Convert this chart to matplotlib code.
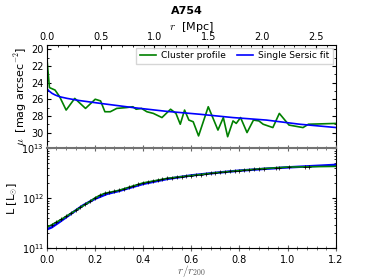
import matplotlib
matplotlib.use('Agg')
import matplotlib.pyplot as plt
from matplotlib.ticker import MultipleLocator

plt.rcParams['mathtext.fontset'] = 'cm'
plt.rcParams['font.size'] = 7

# perfil de brillo superficial (panel superior), r en Mpc
r_mpc = [0.0, 0.025, 0.077, 0.12, 0.18, 0.26, 0.36, 0.45, 0.50, 0.54, 0.59, 0.65,
         0.74, 0.80, 0.83, 0.88, 0.93, 0.99, 1.07, 1.15, 1.20, 1.24, 1.28, 1.32,
         1.36, 1.41, 1.50, 1.59, 1.64, 1.68, 1.73, 1.76, 1.80, 1.86, 1.92, 1.97,
         2.01, 2.10, 2.16, 2.25, 2.38, 2.43, 2.69]
mu_obs = [20.9, 24.6, 24.9, 25.7, 27.3, 25.9, 27.1, 26.0, 26.2, 27.5, 27.5, 27.1,
          27.0, 26.9, 27.2, 27.1, 27.5, 27.7, 28.2, 27.2, 27.7, 29.0, 27.3, 28.5,
          28.7, 30.4, 26.9, 29.7, 28.2, 30.5, 28.6, 28.9, 28.2, 30.0, 28.5, 28.6,
          29.0, 29.4, 27.7, 29.1, 29.4, 29.0, 28.9]

r_fit = [0.0, 0.02, 0.05, 0.08, 0.12, 0.19, 0.3, 0.5, 0.8, 1.11, 1.42, 1.73,
         2.04, 2.35, 2.69]
mu_fit = [24.7, 25.0, 25.3, 25.5, 25.7, 25.9, 26.15, 26.5, 27.0, 27.45, 27.8,
          28.2, 28.5, 29.0, 29.4]

# luminosidad acumulada (panel inferior)
x_lum = [0.0, 0.02, 0.06, 0.1, 0.14, 0.18, 0.2, 0.22, 0.24, 0.3, 0.36, 0.4,
         0.5, 0.6, 0.7, 0.8, 0.9, 1.0, 1.1, 1.2]
L_lum = [2.63e11, 2.95e11, 3.8e11, 5.0e11, 6.6e11, 8.7e11, 1.02e12, 1.15e12,
         1.26e12, 1.45e12, 1.78e12, 2.04e12, 2.51e12, 2.85e12, 3.24e12,
         3.59e12, 3.94e12, 4.22e12, 4.3e12, 4.37e12]

x_lfit = [0.0, 0.02, 0.05, 0.1, 0.15, 0.2, 0.25, 0.3, 0.4, 0.5, 0.6, 0.7,
          0.8, 0.9, 1.0, 1.1, 1.2]
L_lfit = [2.4e11, 2.63e11, 3.3e11, 4.9e11, 7.2e11, 9.8e11, 1.23e12, 1.41e12,
          1.95e12, 2.45e12, 2.88e12, 3.24e12, 3.59e12, 3.89e12, 4.17e12,
          4.42e12, 4.68e12]

x_pts = [0.02, 0.04, 0.06, 0.08, 0.10, 0.12, 0.14, 0.16, 0.18, 0.20, 0.22,
         0.24, 0.26, 0.28, 0.30, 0.32, 0.34, 0.36, 0.38, 0.40, 0.42, 0.44,
         0.46, 0.48, 0.50, 0.52, 0.54, 0.56, 0.58, 0.60, 0.62, 0.64, 0.66,
         0.68, 0.70, 0.72, 0.74, 0.76, 0.78, 0.80, 0.82, 0.84, 0.86, 0.88,
         0.90, 0.95, 0.965, 1.005, 1.07, 1.09]
L_pts = [2.95e11, 3.39e11, 3.8e11, 4.37e11, 5.0e11, 5.75e11, 6.6e11, 7.59e11,
         8.71e11, 1.02e12, 1.15e12, 1.26e12, 1.32e12, 1.38e12, 1.45e12,
         1.55e12, 1.66e12, 1.78e12, 1.91e12, 2.04e12, 2.14e12, 2.21e12,
         2.29e12, 2.4e12, 2.51e12, 2.6e12, 2.66e12, 2.72e12, 2.79e12, 2.85e12,
         2.92e12, 2.99e12, 3.05e12, 3.16e12, 3.24e12, 3.31e12, 3.39e12,
         3.47e12, 3.55e12, 3.59e12, 3.67e12, 3.76e12, 3.8e12, 3.89e12,
         3.94e12, 4.07e12, 4.12e12, 4.22e12, 4.27e12, 4.32e12]

fig = plt.figure(figsize=(3.74, 2.8), dpi=100)
ax1 = fig.add_axes([0.125, 0.470, 0.773, 0.369])
ax2 = fig.add_axes([0.125, 0.113, 0.773, 0.357])

# panel superior
ax1.plot(r_mpc, mu_obs, color='green', lw=1.2, label='Cluster profile')
ax1.plot(r_fit, mu_fit, color='blue', lw=1.2, label='Single Sersic fit')
ax1.set_xlim(0, 2.685)
ax1.set_ylim(31.9, 19.5)
ax1.xaxis.tick_top()
ax1.xaxis.set_label_position('top')
ax1.set_xlabel(r'$r$  [Mpc]', fontsize=8, labelpad=2)
ax1.set_ylabel(r'$\mu$  [mag arcsec$^{-2}$]', fontsize=8, labelpad=2)
ax1.yaxis.set_major_locator(MultipleLocator(2))
ax1.yaxis.set_minor_locator(MultipleLocator(1))
ax1.xaxis.set_major_locator(MultipleLocator(0.5))
ax1.xaxis.set_minor_locator(MultipleLocator(0.1))
ax1.tick_params(which='both', direction='in', top=True, bottom=False,
                left=True, right=True, labelsize=7, pad=2)
ax1.tick_params(which='major', length=3)
ax1.tick_params(which='minor', length=1.5)
ax1.spines['bottom'].set_visible(False)
ax1.legend(loc='upper right', ncol=2, fontsize=6.6, handlelength=1.7,
           handletextpad=0.6, borderpad=0.4, columnspacing=1.2,
           borderaxespad=0.3, fancybox=False, edgecolor='0.8')
fig.text(0.5, 0.962, 'A754', ha='center', va='center', fontsize=8,
         fontweight='bold')

# panel inferior
ax2.plot(x_lfit, L_lfit, color='blue', lw=1.8)
ax2.plot(x_lum, L_lum, color='green', lw=1.2)
ax2.plot(x_pts, L_pts, 'k+', ms=3, mew=0.5)
ax2.set_yscale('log')
ax2.set_xlim(0, 1.2)
ax2.set_ylim(1e11, 1e13)
ax2.set_xlabel(r'$r/r_{200}$', fontsize=8, color='0.35', labelpad=-1)
ax2.set_ylabel(r'L [L$_{\odot}$]', fontsize=8, labelpad=1)
ax2.xaxis.set_major_locator(MultipleLocator(0.2))
ax2.xaxis.set_minor_locator(MultipleLocator(0.04))
ax2.tick_params(which='both', direction='in', right=True, top=False,
                labelsize=7, pad=2)
ax2.tick_params(which='major', length=3)
ax2.tick_params(which='minor', length=1.5)
ax2.tick_params(axis='x', which='both', top=True, direction='inout',
                color='0.4')
ax2.tick_params(axis='x', which='major', length=5)
ax2.tick_params(axis='x', which='minor', length=3)
ax2.spines['top'].set_color('0.45')
ax2.spines['top'].set_linewidth(1.5)

plt.savefig('out.png', dpi=100)
